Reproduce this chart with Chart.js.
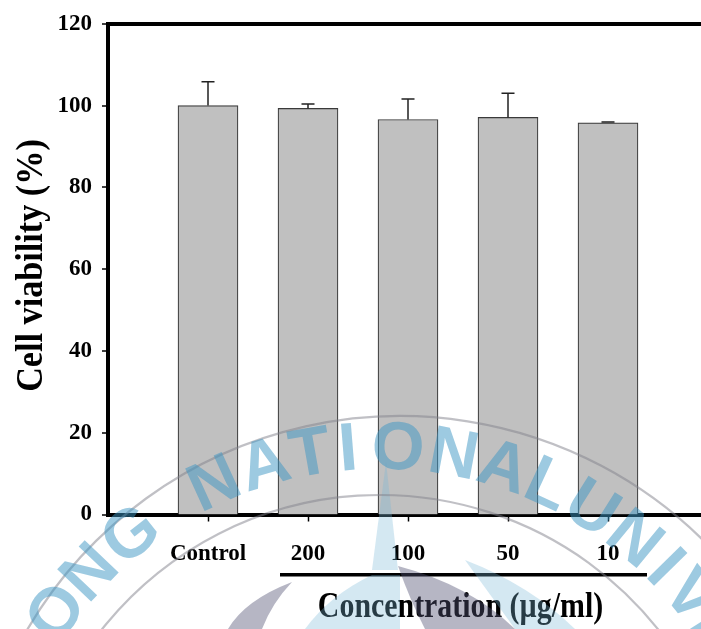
<!DOCTYPE html>
<html>
<head>
<meta charset="utf-8">
<script src="https://cdn.jsdelivr.net/npm/chart.js@4.4.1/dist/chart.umd.min.js"></script>
<style>
  html, body { margin: 0; padding: 0; background: #fff; overflow: hidden; }
  #wrap { width: 701px; height: 629px; position: relative; }
</style>
</head>
<body>
<div id="wrap"><canvas id="c" width="701" height="629"></canvas></div>
<script>
// Treatment groups along the x axis
const CATEGORIES = ['Control', '200', '100', '50', '10'];
// Mean cell viability (%) and standard deviation per group
const VIABILITY = [100.0, 99.3, 96.6, 97.1, 95.8];
const SD = [5.8, 1.1, 5.0, 5.9, 0.2];
// Y axis range and tick spacing
const Y_MIN = 0, Y_MAX = 120, Y_STEP = 20;

const Y_TITLE = 'Cell viability (%)';
const X_TITLE = 'Concentration (\u00b5g/ml)';

const SERIF = '"Liberation Serif", "Times New Roman", serif';

// Library stamp printed across the lower half of the page
const STAMP_LETTERS = ['O', 'N', 'G', 'N', 'A', 'T', 'I', 'O', 'N', 'A', 'L', 'U', 'N', 'I', 'V', 'E'];
const STAMP_ANGLES = [-54, -46.5, -38.5, -24.5, -16.8, -10, -4.6, 2.6, 10.6, 18, 24.8, 32, 39.5, 45.5, 51, 57.5];

// Upward-only error bars drawn from each bar top
const errorBars = {
  id: 'errorBars',
  afterDatasetsDraw(chart) {
    const ctx = chart.ctx;
    const y = chart.scales.y;
    const meta = chart.getDatasetMeta(0);
    ctx.save();
    ctx.strokeStyle = '#222';
    ctx.lineWidth = 1.5;
    meta.data.forEach((bar, i) => {
      const top = y.getPixelForValue(VIABILITY[i] + SD[i]);
      ctx.beginPath();
      ctx.moveTo(bar.x, bar.y);
      ctx.lineTo(bar.x, top);
      ctx.moveTo(bar.x - 6.5, top);
      ctx.lineTo(bar.x + 6.5, top);
      ctx.stroke();
    });
    ctx.restore();
  }
};

// Condensed bold axis titles and the bracket line under the concentrations
const axisTitles = {
  id: 'axisTitles',
  afterDraw(chart) {
    const ctx = chart.ctx;
    const x = chart.scales.x;
    ctx.save();
    ctx.fillStyle = '#000';

    ctx.save();
    ctx.translate(42, 265.5);
    ctx.rotate(-Math.PI / 2);
    ctx.scale(0.9, 1);
    ctx.font = 'bold 38px ' + SERIF;
    ctx.textAlign = 'center';
    ctx.textBaseline = 'alphabetic';
    ctx.fillText(Y_TITLE, 0, 0);
    ctx.restore();

    ctx.save();
    ctx.translate(460.5, 617);
    ctx.scale(0.83, 1);
    ctx.font = 'bold 36px ' + SERIF;
    ctx.textAlign = 'center';
    ctx.textBaseline = 'alphabetic';
    ctx.fillText(X_TITLE, 0, 0);
    ctx.restore();

    ctx.strokeStyle = '#000';
    ctx.lineWidth = 3.5;
    ctx.beginPath();
    ctx.moveTo(x.getPixelForValue(0.72), 574.7);
    ctx.lineTo(x.getPixelForValue(4.39), 574.7);
    ctx.stroke();
    ctx.restore();
  }
};

// Faint translucent stamp: ring arcs, emblem shapes and curved lettering
const stamp = {
  id: 'stamp',
  afterDraw(chart) {
    const ctx = chart.ctx;
    const cx = 380, cy = 848;
    ctx.save();

    // emblem shapes
    ctx.fillStyle = 'rgba(120,185,215,0.32)';
    ctx.beginPath();
    ctx.moveTo(386, 462);
    ctx.lineTo(398, 570);
    ctx.lineTo(372, 570);
    ctx.closePath();
    ctx.fill();
    ctx.beginPath();
    ctx.moveTo(372, 575);
    ctx.quadraticCurveTo(330, 595, 305, 629);
    ctx.lineTo(400, 629);
    ctx.lineTo(400, 575);
    ctx.closePath();
    ctx.fill();
    ctx.beginPath();
    ctx.moveTo(465, 560);
    ctx.quadraticCurveTo(530, 585, 575, 629);
    ctx.lineTo(515, 629);
    ctx.closePath();
    ctx.fill();

    ctx.fillStyle = 'rgba(80,80,115,0.42)';
    ctx.beginPath();
    ctx.moveTo(398, 566);
    ctx.quadraticCurveTo(470, 585, 515, 629);
    ctx.lineTo(425, 629);
    ctx.quadraticCurveTo(410, 600, 398, 566);
    ctx.closePath();
    ctx.fill();
    ctx.beginPath();
    ctx.moveTo(292, 582);
    ctx.quadraticCurveTo(245, 600, 228, 629);
    ctx.lineTo(262, 629);
    ctx.quadraticCurveTo(272, 603, 292, 582);
    ctx.closePath();
    ctx.fill();

    // ring arcs
    ctx.strokeStyle = 'rgba(130,130,140,0.5)';
    ctx.lineWidth = 2.2;
    ctx.beginPath();
    ctx.arc(400, 848, 432, Math.PI * 1.05, Math.PI * 1.98);
    ctx.stroke();
    ctx.beginPath();
    ctx.arc(380, 850, 355, Math.PI * 1.1, Math.PI * 1.8);
    ctx.stroke();

    // lettering
    ctx.fillStyle = 'rgba(60,150,195,0.5)';
    ctx.font = 'bold 68px "Liberation Sans", Arial, sans-serif';
    ctx.textAlign = 'center';
    ctx.textBaseline = 'middle';
    STAMP_LETTERS.forEach((ch, i) => {
      const a = STAMP_ANGLES[i] * Math.PI / 180;
      const r = 398;
      ctx.save();
      ctx.translate(cx + r * Math.sin(a), cy - r * Math.cos(a));
      ctx.rotate(a);
      ctx.fillText(ch, 0, 0);
      ctx.restore();
    });
    ctx.restore();
  }
};

new Chart(document.getElementById('c'), {
  type: 'bar',
  data: {
    datasets: [{
      data: CATEGORIES.map((c, i) => ({ x: i, y: VIABILITY[i] })),
      backgroundColor: '#c0c0c0',
      borderColor: '#3a3a3a',
      borderWidth: 1.2,
      barThickness: 60
    }]
  },
  options: {
    responsive: false,
    animation: false,
    events: [],
    layout: { padding: { top: 19, right: 0, bottom: 0, left: 0 } },
    plugins: { legend: { display: false }, tooltip: { enabled: false } },
    scales: {
      x: {
        type: 'linear',
        position: 'bottom',
        offset: false,
        min: -1,
        max: 4.93,
        afterBuildTicks: (s) => { s.ticks = CATEGORIES.map((c, i) => ({ value: i })); },
        afterFit: (s) => { s.height = 114.5; },
        ticks: {
          autoSkip: false,
          maxRotation: 0,
          color: '#000',
          padding: 19,
          font: { family: SERIF, size: 23, weight: 'bold' },
          callback: (v, i) => CATEGORIES[i]
        },
        grid: {
          offset: false,
          drawOnChartArea: false,
          drawTicks: true,
          tickLength: 7,
          tickColor: '#000',
          tickWidth: 1.5
        },
        border: { display: true, color: '#000', width: 4 }
      },
      y: {
        min: Y_MIN,
        max: Y_MAX,
        afterFit: (s) => { s.width = 108; },
        ticks: {
          stepSize: Y_STEP,
          color: '#000',
          padding: 10,
          font: { family: SERIF, size: 23, weight: 'bold' }
        },
        grid: {
          drawOnChartArea: true,
          drawTicks: true,
          tickLength: 6,
          tickColor: '#000',
          tickWidth: 1.5,
          color: (c) => (c.tick && c.tick.value === Y_MAX ? '#000' : 'rgba(0,0,0,0)'),
          lineWidth: (c) => (c.tick && c.tick.value === Y_MAX ? 4 : 0)
        },
        border: { display: true, color: '#000', width: 4 }
      }
    }
  },
  plugins: [errorBars, axisTitles, stamp]
});
</script>
</body>
</html>
